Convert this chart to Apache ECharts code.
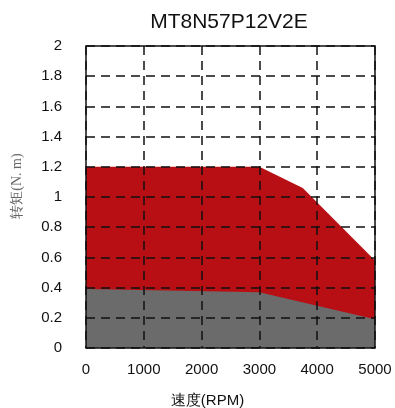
<!DOCTYPE html>
<html><head><meta charset="utf-8">
<script src="https://cdn.jsdelivr.net/npm/echarts@6/dist/echarts.min.js"></script>
<style>html,body{margin:0;padding:0;background:#fff}#c{width:395px;height:408px}</style>
</head><body><div id="c"></div>
<script>
const titleText = 'MT8N57P12V2E';
const xName = '速度(RPM)';
const yName = '转矩(N. m)';
const peakSpeed = [0, 3000, 3750, 5000];
const peakTorque = [1.2, 1.2, 1.06, 0.58];
const contSpeed = [0, 3000, 5000];
const contTorque = [0.39, 0.37, 0.19];

const chart = echarts.init(document.getElementById('c'), null, {renderer: 'canvas'});
const font = 'Liberation Sans, Arial, sans-serif';
chart.setOption({
  animation: false,
  backgroundColor: '#fff',
  title: {text: titleText, left: 224, top: 7, textAlign: 'center',
    textStyle: {fontFamily: font, fontSize: 21, fontWeight: 'normal', color: '#111'}},
  grid: {left: 86, right: 20, top: 46, bottom: 60, outerBoundsMode: 'none', containLabel: false,
    show: true, borderColor: '#111', borderWidth: 1.5, backgroundColor: 'transparent', z: 10},
  xAxis: {type: 'value', min: 0, max: 5000, interval: 1000, z: 10,
    name: xName, nameLocation: 'middle', nameGap: 45,
    nameTextStyle: {fontFamily: font, fontSize: 15, color: '#111', padding: [0, 46, 0, 0]},
    axisLine: {show: false}, axisTick: {show: false},
    axisLabel: {fontFamily: font, fontSize: 15, color: '#111', margin: 14, formatter: v => String(v)},
    splitLine: {show: true, lineStyle: {color: '#111', width: 1.5, type: [9, 6]}}},
  yAxis: {type: 'value', min: 0, max: 2, interval: 0.2, z: 10,
    name: yName, nameLocation: 'middle', nameGap: 62,
    nameTextStyle: {fontFamily: 'Liberation Serif, serif', fontSize: 14, color: '#666', padding: [0, 0, 0, 22]},
    axisLine: {show: false}, axisTick: {show: false},
    axisLabel: {fontFamily: font, fontSize: 15, color: '#111', margin: 24},
    splitLine: {show: true, lineStyle: {color: '#111', width: 1.5, type: [9, 6]}}},
  series: [
    {type: 'line', data: peakSpeed.map((s, i) => [s, peakTorque[i]]), symbol: 'none',
      lineStyle: {width: 0}, areaStyle: {color: '#B80F14', opacity: 1}, z: 1},
    {type: 'line', data: contSpeed.map((s, i) => [s, contTorque[i]]), symbol: 'none',
      lineStyle: {width: 0}, areaStyle: {color: '#6B6B6B', opacity: 1}, z: 2}
  ]
});
</script></body></html>
